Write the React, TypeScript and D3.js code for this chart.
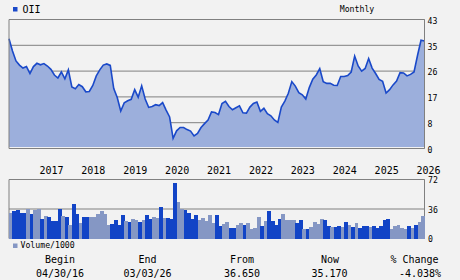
import React from "react";
import * as d3 from "d3";

const ticker = "OII";
const period = "Monthly";
const priceMax = 43;
const priceTickLabels = ["0", "8", "17", "26", "35", "43"];
const volMax = 72;
const volTickLabels = ["0", "36", "72"];
const years = ["2017", "2018", "2019", "2020", "2021", "2022", "2023", "2024", "2025", "2026"];
const firstJanIndex = 9; // months from Apr 2016 to Jan 2017

const prices = [
  36.6, 32.5, 29.2, 27.8, 26.8, 27.3, 25.0, 27.3, 28.4, 27.9,
  28.3, 27.5, 26.4, 24.5, 23.5, 25.5, 23.2, 26.2, 20.5, 19.9,
  21.3, 20.6, 18.9, 19.0, 21.0, 24.2, 26.2, 27.8, 28.2, 27.7,
  20.0, 17.0, 12.5, 15.2, 15.9, 16.4, 19.6, 17.1, 20.9, 16.5,
  13.7, 14.0, 14.6, 14.3, 15.3, 12.8, 10.5, 3.4, 5.9, 7.0,
  7.0, 6.3, 5.8, 4.2, 5.0, 7.0, 8.3, 9.5, 12.2, 12.0,
  11.3, 15.0, 15.7, 14.0, 12.9, 13.6, 14.2, 11.9, 11.8, 13.8,
  15.0, 15.5, 12.4, 13.4, 11.6, 10.9, 9.5, 8.7, 13.8, 15.8,
  18.4, 22.3, 20.8, 18.6, 17.9, 16.5, 20.3, 23.1, 24.5, 26.6,
  22.3, 21.7, 21.7, 21.1, 21.0, 24.0, 24.0, 24.3, 25.5, 30.8,
  27.5, 25.8, 26.7, 30.0, 26.8, 25.0, 23.0, 22.4, 18.5, 19.6,
  21.2, 22.5, 25.3, 25.2, 24.2, 24.7, 25.5, 31.0, 36.1, 35.8,
];

const volumes = [
  30.8, 33, 34.4, 30.8, 30.8, 36.4, 29.6, 34.4, 36.4, 23.6,
  27.2, 26, 21.2, 21.2, 36, 27.2, 26, 16.4, 41.6, 29.6,
  18.8, 26, 26, 26, 26, 29.6, 33.2, 29.6, 16.4, 17.6,
  22.4, 16.4, 28.4, 21.2, 20, 23.6, 22.4, 20, 22.4, 28.4,
  23.6, 26, 24.8, 38, 24.8, 24.8, 23.6, 68, 44, 36.4,
  34.4, 30.8, 23.6, 28.4, 22.4, 24.8, 21.2, 28.4, 18.8, 28.4,
  15.2, 17.6, 20, 12.8, 12.8, 16.4, 18.8, 16.4, 18.8, 11.6,
  12.8, 26, 15.2, 21.2, 33.2, 21.2, 16.4, 23.6, 29.6, 22.4,
  22.4, 22.4, 18.8, 22.4, 11.6, 11.6, 14, 20, 17.6, 23.6,
  22.4, 15.2, 14, 14, 15.2, 14, 20, 16.4, 14, 18.8,
  12.8, 15.2, 15.2, 14, 15.2, 12.8, 15.2, 22.4, 23.6, 11.6,
  15.2, 16.4, 12.8, 11.6, 15.2, 12.8, 16.4, 20, 27.2,
];

// D = dark bar, L = light bar
const volumeShades = [
  "L","D","D","D","D","L","D","L","L","D",
  "L","D","D","D","D","L","D","L","D","D",
  "L","D","D","L","L","L","L","L","L","D",
  "D","D","D","L","D","L","L","D","L","D",
  "D","L","L","D","L","D","D","D","L","L",
  "D","D","D","D","L","L","L","L","L","D",
  "D","L","L","D","D","L","L","D","L","L",
  "L","L","D","L","D","D","D","D","L","L",
  "L","L","D","D","L","D","L","L","L","L",
  "D","D","L","D","D","L","D","L","D","L",
  "D","D","D","L","D","D","D","D","D","L",
  "L","L","L","L","D","L","D","L","L",
];

const footerLabels = ["Begin", "End", "From", "Now", "% Change"];
const footerValues = ["04/30/16", "03/03/26", "36.650", "35.170", "-4.038%"];

const BG = "#f2f2f2";
const FRAME = "#808080";
const FILL = "#9cafdc";
const LINE = "#1a49c9";
const DARK = "#1244c6";
const LIGHT = "#8597c4";
const MONO = "'DejaVu Sans Mono', 'Liberation Mono', monospace";

export default function App() {
  const left = 9, right = 424.5;
  const x = d3.scaleLinear().domain([0, prices.length - 1]).range([left, right]);
  const y = d3.scaleLinear().domain([0, priceMax]).range([148.5, 19.5]);
  const yv = d3.scaleLinear().domain([0, volMax]).range([238.5, 179.5]);

  const area = d3.area<number>()
    .x((_, i) => x(i))
    .y0(y(0) - 1.5)
    .y1((d) => y(d));
  const line = d3.line<number>()
    .x((_, i) => x(i))
    .y((d) => y(d));

  const gridVals = priceTickLabels.map((_, k) => (priceMax * k) / (priceTickLabels.length - 1));
  const volGrid = volTickLabels.map((_, k) => (volMax * k) / (volTickLabels.length - 1));

  const footerX = [60, 147.5, 242, 330, 414.5];
  const footerValX = [60, 147.5, 242, 329.5, 420];

  return (
    <svg width={460} height={280} style={{ position: "absolute", left: 0, top: 0, background: BG }}>
      <rect x={0} y={0} width={460} height={280} fill={BG} />
      {/* legend */}
      <rect x={13} y={7} width={4.5} height={4.5} fill={LINE} />
      <text x={22.5} y={12.8} fontFamily={MONO} fontSize={10} fill="#000">{ticker}</text>
      <text x={357} y={12.3} fontFamily={MONO} fontSize={8.2} fill="#000" textAnchor="middle">{period}</text>

      {/* price gridlines */}
      {gridVals.map((v, k) => (
        <line key={k} x1={left} x2={right} y1={y(v)} y2={y(v)} stroke={FRAME} strokeWidth={1} />
      ))}
      <path d={area(prices) || ""} fill={FILL} />
      <path d={line(prices) || ""} fill="none" stroke={LINE} strokeWidth={1.6} strokeLinejoin="miter" />
      <path d={`M${left},${y(0)}V${y(priceMax)}H${right}V${y(0)}Z`} fill="none" stroke={FRAME} strokeWidth={1} />
      <path d={`M${left},${y(0) - 1.5}V${y(priceMax)}`} fill="none" stroke={FRAME} strokeWidth={1} opacity={0} />
      {priceTickLabels.map((t, k) => (
        <text key={t} x={427.5} y={y(gridVals[k]) + 4.3} fontFamily={MONO} fontSize={8.2} fill="#000">{t}</text>
      ))}

      {/* year labels */}
      {years.map((yr, k) => (
        <text key={yr} x={x(firstJanIndex + 12 * k) - 1} y={174} fontFamily={MONO} fontSize={10} fill="#000">{yr}</text>
      ))}

      {/* volume panel */}
      {volGrid.slice(1).map((v, k) => (
        <line key={k} x1={left} x2={right} y1={yv(v)} y2={yv(v)} stroke={FRAME} strokeWidth={1} />
      ))}
      <path d={`M${left},${yv(0)}V${yv(volMax)}H${right}V${yv(0)}`} fill="none" stroke={FRAME} strokeWidth={1} />
      <g shapeRendering="crispEdges">
        {volumes.map((v, i) => (
          <rect key={i} x={x(i)} y={yv(v)} width={x(i + 1) - x(i) + 0.3} height={yv(0) - yv(v) + 0.5}
            fill={volumeShades[i] === "D" ? DARK : LIGHT} />
        ))}
      </g>
      {volTickLabels.map((t, k) => (
        <text key={t} x={428} y={yv(volGrid[k]) + 3.5} fontFamily={MONO} fontSize={8.2} fill="#000">{t}</text>
      ))}
      <rect x={13} y={243.5} width={4.5} height={4.5} fill={LIGHT} />
      <text x={20.5} y={248} fontFamily={MONO} fontSize={8.2} fill="#000">Volume/1000</text>

      {/* footer */}
      {footerLabels.map((t, k) => (
        <text key={t} x={footerX[k]} y={263.3} fontFamily={MONO} fontSize={10} fill="#000" textAnchor="middle">{t}</text>
      ))}
      {footerValues.map((t, k) => (
        <text key={t} x={footerValX[k]} y={277.3} fontFamily={MONO} fontSize={10} fill="#000" textAnchor="middle">{t}</text>
      ))}
    </svg>
  );
}
